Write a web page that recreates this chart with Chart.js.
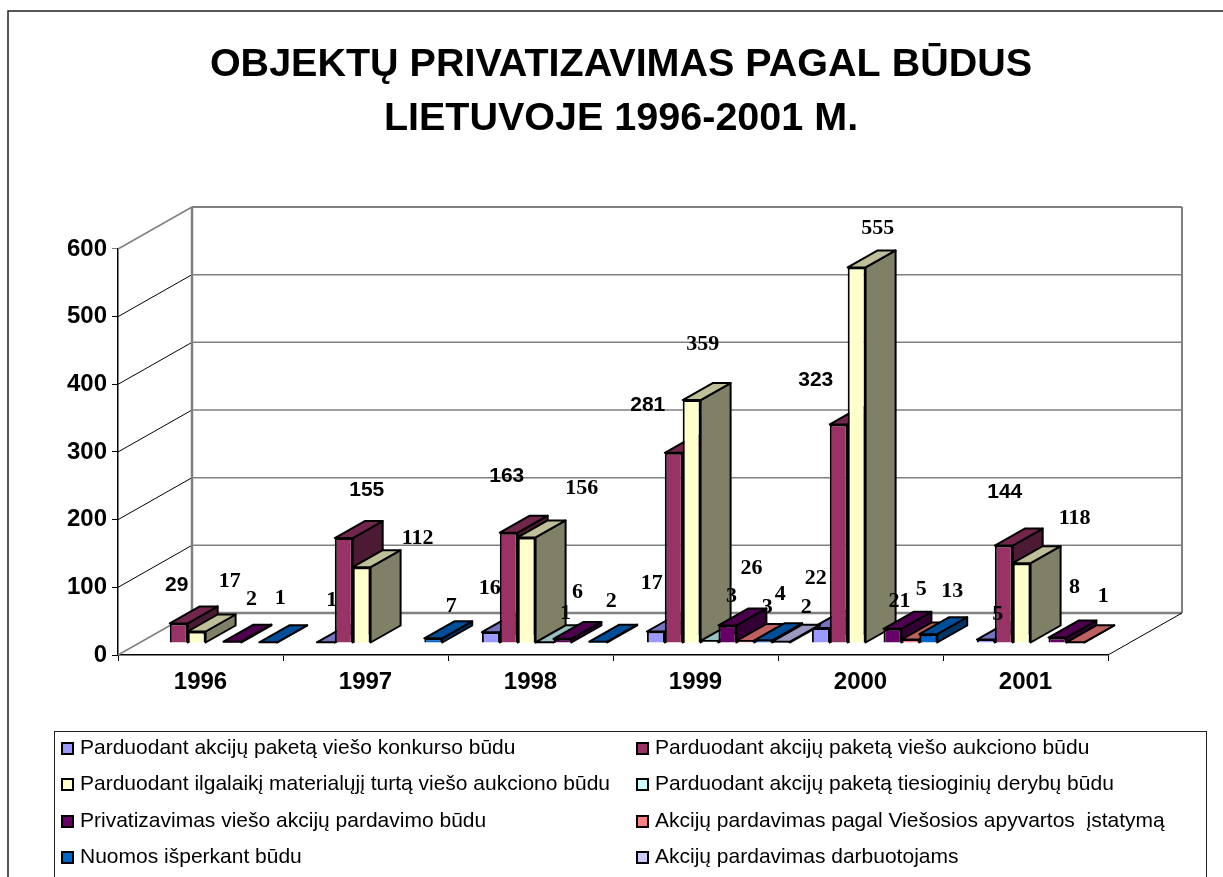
<!DOCTYPE html>
<html>
<head>
<meta charset="utf-8">
<style>html,body{margin:0;padding:0;background:#fff;overflow:hidden}canvas{display:block}</style>
<script src="https://cdn.jsdelivr.net/npm/chart.js@4/dist/chart.umd.min.js"></script>
</head>
<body>
<canvas id="c" width="1223" height="877"></canvas>
<script>
const titleLines = ["OBJEKTŲ PRIVATIZAVIMAS PAGAL BŪDUS", "LIETUVOJE 1996-2001 M."];
const years = ["1996", "1997", "1998", "1999", "2000", "2001"];
const yTicks = [0, 100, 200, 300, 400, 500, 600];

const konkursas = [null, 1, 16, 17, 22, 5];
const aukcionas = [29, 155, 163, 281, 323, 144];
const turtas = [17, 112, 156, 359, 555, 118];
const derybos = [null, null, 1, 3, null, null];
const viesas = [2, null, 6, 26, 21, 8];
const apyvarta = [null, null, null, 3, 5, 1];
const nuoma = [1, 7, 2, 4, 13, null];
const darbuotojai = [null, null, null, 2, null, null];

const seriesNames = [
  "Parduodant akcijų paketą viešo konkurso būdu",
  "Parduodant akcijų paketą viešo aukciono būdu",
  "Parduodant ilgalaikį materialųjį turtą viešo aukciono būdu",
  "Parduodant akcijų paketą tiesioginių derybų būdu",
  "Privatizavimas viešo akcijų pardavimo būdu",
  "Akcijų pardavimas pagal Viešosios apyvartos  įstatymą",
  "Nuomos išperkant būdu",
  "Akcijų pardavimas darbuotojams"
];
const seriesValues = [konkursas, aukcionas, turtas, derybos, viesas, apyvarta, nuoma, darbuotojai];
const seriesColors = [[153,153,255],[153,51,102],[255,255,204],[204,255,255],[102,0,102],[255,128,128],[0,102,204],[204,204,255]];

// label displacement from the top centre of each bar's front face
const labelNudges = [
  [null,[6,-42],[-1,-44],[-4,-48],[-5,-50],[12,-25]],
  [[-2,-38],[23,-48],[-2,-56],[-26,-48],[-23,-44],[1,-53]],
  [[33,-50],[56,-29],[55,-49],[11,-56],[21,-39],[53,-45]],
  [null,null,[21,-29],[22,-45],null,null],
  [[19,-42],null,[15,-47],[24,-57],[7,-27],[17,-50]],
  [null,null,null,[22,-34],[11,-50],[28,-46]],
  [[12,-44],[18,-32],[13,-40],[17,-46],[24,-43],null],
  [null,null,null,[25,-34],null,null]
];

const FLOOR_DX = 23, FLOOR_DY = -12;   // bars stand this far back from the front plane
const BAR_DX = 30, BAR_DY = -17;       // bar depth
const WALL_DX = 74, WALL_DY = -42;     // full chart depth
const GREY = '#808080';

function rgb(c, f) { return `rgb(${Math.round(c[0]*f)},${Math.round(c[1]*f)},${Math.round(c[2]*f)})`; }
function poly(ctx, pts, fill) {
  ctx.beginPath();
  pts.forEach((p, i) => i ? ctx.lineTo(p[0], p[1]) : ctx.moveTo(p[0], p[1]));
  ctx.closePath();
  if (fill) { ctx.fillStyle = fill; ctx.fill(); }
  ctx.stroke();
}
function line(ctx, x1, y1, x2, y2, color, width) {
  ctx.strokeStyle = color; ctx.lineWidth = width;
  ctx.beginPath(); ctx.moveTo(x1, y1); ctx.lineTo(x2, y2); ctx.stroke();
}

function drawWalls(chart) {
  const ctx = chart.ctx, x = chart.scales.x, y = chart.scales.y;
  const l = x.left, r = x.right;
  ctx.save();
  yTicks.forEach(v => {
    const py = y.getPixelForValue(v);
    const edge = v === 0 || v === 600;
    line(ctx, l, py, l + WALL_DX, py + WALL_DY, edge ? GREY : '#000', edge ? 1.5 : 1);
    if (v > 0 && v < 600) line(ctx, l + WALL_DX, py + WALL_DY, r + WALL_DX, py + WALL_DY, GREY, 1.5);
  });
  const top = y.getPixelForValue(600) + WALL_DY, bot = y.getPixelForValue(0) + WALL_DY;
  line(ctx, l + WALL_DX, top, r + WALL_DX, top, GREY, 2);
  line(ctx, l + WALL_DX, bot, r + WALL_DX, bot, GREY, 2.5);
  line(ctx, l + WALL_DX, top, l + WALL_DX, bot, GREY, 2.5);
  line(ctx, r + WALL_DX, top, r + WALL_DX, bot, GREY, 2);
  line(ctx, r, y.getPixelForValue(0), r + WALL_DX, bot, '#000', 1);
  ctx.restore();
}

function drawSeries(chart, i) {
  const ctx = chart.ctx, c = seriesColors[i], meta = chart.getDatasetMeta(i);
  ctx.save();
  ctx.translate(FLOOR_DX, FLOOR_DY);
  ctx.strokeStyle = '#000'; ctx.lineWidth = 2; ctx.lineJoin = 'round';
  meta.data.forEach((el, j) => {
    if (seriesValues[i][j] == null) return;
    const p = el.getProps(['x', 'y', 'base', 'width'], true);
    const a = p.x - p.width / 2, b = p.x + p.width / 2;
    poly(ctx, [[b, p.y], [b + BAR_DX, p.y + BAR_DY], [b + BAR_DX, p.base + BAR_DY], [b, p.base]], rgb(c, 0.5));
    poly(ctx, [[a, p.y], [a + BAR_DX, p.y + BAR_DY], [b + BAR_DX, p.y + BAR_DY], [b, p.y]], rgb(c, 0.75));
  });
  meta.controller.draw();
  ctx.restore();
}

function drawLabels(chart) {
  const ctx = chart.ctx;
  ctx.save();
  ctx.textAlign = 'center'; ctx.textBaseline = 'middle'; ctx.fillStyle = '#000';
  seriesValues.forEach((vals, i) => {
    ctx.font = i === 1 ? 'bold 21px "Liberation Sans"' : 'bold 22px "Liberation Serif"';
    const data = chart.getDatasetMeta(i).data;
    vals.forEach((v, j) => {
      if (v == null) return;
      const n = labelNudges[i][j];
      ctx.fillText(String(v), data[j].x + FLOOR_DX + n[0], data[j].y + FLOOR_DY + n[1]);
    });
  });
  ctx.restore();
}

const bars3d = {
  id: 'bars3d',
  beforeDraw(chart) {
    const ctx = chart.ctx;
    ctx.save();
    ctx.fillStyle = '#fff';
    ctx.fillRect(0, 0, chart.width, chart.height);
    ctx.strokeStyle = '#222'; ctx.lineWidth = 1.5;
    ctx.strokeRect(8, 11, 1300, 1000);
    ctx.restore();
  },
  beforeDatasetsDraw(chart) {
    drawWalls(chart);
    seriesValues.forEach((_, i) => drawSeries(chart, i));   // left to right, so nearer faces overlap
    drawLabels(chart);
    return false;
  },
  afterDraw(chart) {
    const ctx = chart.ctx;
    ctx.save();
    ctx.strokeStyle = '#222'; ctx.lineWidth = 1;
    ctx.strokeRect(54.5, 731.5, 1152, 300);
    const colX = [62, 637], rowY = [748, 784, 821, 857];
    ctx.font = '21px "Liberation Sans"';
    ctx.textAlign = 'left'; ctx.textBaseline = 'middle';
    seriesNames.forEach((name, i) => {
      const x = colX[i % 2], yy = rowY[Math.floor(i / 2)];
      ctx.fillStyle = rgb(seriesColors[i], 1);
      ctx.strokeStyle = '#000';
      ctx.lineWidth = 2;
      ctx.fillRect(x, yy - 5, 11, 11);
      ctx.strokeRect(x, yy - 5, 11, 11);
      ctx.fillStyle = '#000';
      ctx.fillText(name, x + 18, yy);
    });
    ctx.restore();
  }
};

new Chart(document.getElementById('c'), {
  type: 'bar',
  data: {
    labels: years,
    datasets: seriesValues.map((vals, i) => ({
      label: seriesNames[i],
      data: vals,
      backgroundColor: rgb(seriesColors[i], 1),
      borderColor: '#000',
      borderWidth: 2
    }))
  },
  options: {
    responsive: false,
    animation: false,
    devicePixelRatio: 1,
    layout: { padding: { left: 19, right: 0, top: 0, bottom: 0 } },
    datasets: { bar: { barPercentage: 1, categoryPercentage: 0.868 } },
    plugins: {
      legend: { display: false },
      tooltip: { enabled: false },
      title: {
        display: true,
        text: titleLines,
        color: '#000',
        font: { family: '"Liberation Sans"', weight: 'bold', size: 39.5, lineHeight: 1.367 },
        padding: { top: 38, bottom: 103 }
      }
    },
    scales: {
      x: {
        afterFit(s) { s.height = 222; },
        grid: { drawOnChartArea: false, offset: true, tickLength: 6, color: '#000', tickColor: '#000', tickWidth: 1 },
        border: { color: '#000', width: 1.5 },
        ticks: { color: '#000', padding: 7, maxRotation: 0, font: { family: '"Liberation Sans"', weight: 'bold', size: 24 } }
      },
      y: {
        min: 0, max: 600,
        afterFit(s) { s.width = 99; },
        grid: { drawOnChartArea: false, tickLength: 6, tickWidth: 1, tickColor: c => c.tick && c.tick.value === 600 ? GREY : '#000' },
        border: { color: '#000', width: 1.5 },
        afterBuildTicks(s) { s.ticks = yTicks.map(v => ({ value: v })); },
        ticks: { color: '#000', padding: 5, font: { family: '"Liberation Sans"', weight: 'bold', size: 24 } }
      },
      rightSpace: {
        type: 'linear', position: 'right', display: true,
        afterFit(s) { s.width = 115; },
        grid: { display: false }, border: { display: false }, ticks: { display: false }
      }
    }
  },
  plugins: [bars3d]
});
</script>
</body>
</html>
